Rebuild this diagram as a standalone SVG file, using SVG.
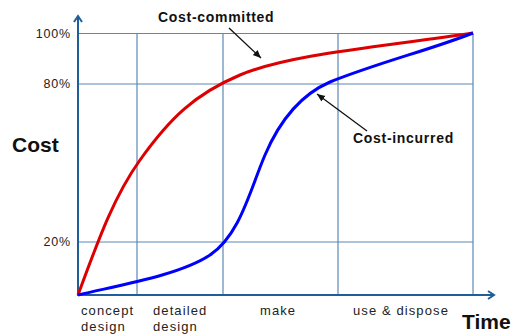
<svg xmlns="http://www.w3.org/2000/svg" width="512" height="335" viewBox="0 0 512 335">
<defs>
<style>
.grid{stroke:#5a88b5;stroke-width:1.2;fill:none}
.axis{stroke:#1f5f99;stroke-width:2;fill:none}
.lbl{font-family:"Liberation Sans",Arial,sans-serif;font-size:13px;letter-spacing:1.1px;fill:#222}
.pct{font-family:"Liberation Sans",Arial,sans-serif;font-size:12.5px;letter-spacing:0.8px;fill:#222;text-anchor:end}
.big{font-family:"Liberation Sans",Arial,sans-serif;font-size:21px;font-weight:bold;fill:#111}
.ann{font-family:"Liberation Sans",Arial,sans-serif;font-size:14px;letter-spacing:0.7px;font-weight:bold;fill:#111}
.ptr{stroke:#111;stroke-width:1.3;fill:none}
</style>
<marker id="axh" markerWidth="10" markerHeight="10" refX="7" refY="5" orient="auto" markerUnits="userSpaceOnUse">
<path d="M1,1 L7,5 L1,9" fill="none" stroke="#1f5f99" stroke-width="2"/>
</marker>
<marker id="ph" markerWidth="10" markerHeight="10" refX="8" refY="5" orient="auto" markerUnits="userSpaceOnUse">
<path d="M0,1.5 L8,5 L0,8.5 Z" fill="#111"/>
</marker>
</defs>
<rect width="512" height="335" fill="#fff"/>
<g id="grid">
<line class="grid" x1="78" y1="33.5" x2="473" y2="33.5"/>
<line class="grid" x1="78" y1="84" x2="473" y2="84"/>
<line class="grid" x1="78" y1="242" x2="473" y2="242"/>
<line class="grid" x1="137" y1="33.5" x2="137" y2="295"/>
<line class="grid" x1="223" y1="33.5" x2="223" y2="295"/>
<line class="grid" x1="338" y1="33.5" x2="338" y2="295"/>
<line class="grid" x1="473" y1="33.5" x2="473" y2="295"/>
</g>
<g id="axes">
<line class="axis" x1="78" y1="296" x2="78" y2="16" marker-end="url(#axh)"/>
<line class="axis" x1="77" y1="295" x2="494" y2="295" marker-end="url(#axh)"/>
</g>
<g id="ticks">
<text class="pct" x="71" y="38">100%</text>
<text class="pct" x="71" y="88">80%</text>
<text class="pct" x="71" y="246">20%</text>
<text class="big" x="12" y="152">Cost</text>
<text class="big" x="462" y="329">Time</text>
<text class="lbl" x="81" y="315">concept</text>
<text class="lbl" x="81" y="331">design</text>
<text class="lbl" x="153" y="315">detailed</text>
<text class="lbl" x="153" y="331">design</text>
<text class="lbl" x="260" y="315">make</text>
<text class="lbl" x="353" y="315">use &amp; dispose</text>
</g>
<g id="cost-committed">
<path d="M78,295 C100,235 115,195 140,160 C170,118 195,94 240,75 C290,54 380,47 473,33" fill="none" stroke="#dd0000" stroke-width="3"/>
</g>
<g id="cost-incurred">
<path d="M78,295 C120,285 180,275 210,255 C240,235 250,190 265,155 C280,120 300,95 330,82 C380,62 430,50 473,33" fill="none" stroke="#0000ff" stroke-width="3"/>
</g>
<g id="connectors">
<line class="ptr" x1="229" y1="28" x2="261" y2="58" marker-end="url(#ph)"/>
<line class="ptr" x1="367" y1="131" x2="317" y2="94" marker-end="url(#ph)"/>
</g>
<g id="labels">
<text class="ann" x="158" y="22">Cost-committed</text>
<text class="ann" x="353" y="143">Cost-incurred</text>
</g>
</svg>
